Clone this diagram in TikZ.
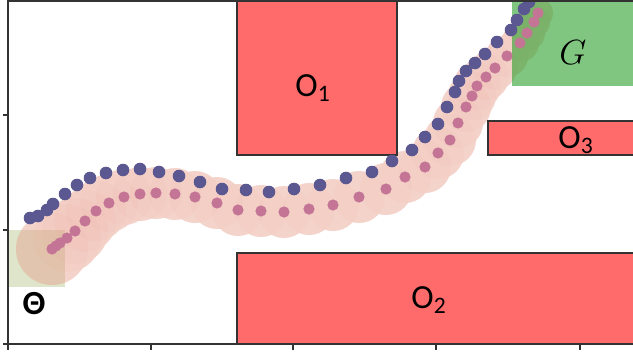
\documentclass[tikz,border=0pt]{standalone}
\usepackage{fontspec}
\setmainfont{Carlito}
\usetikzlibrary{positioning}
\definecolor{rojoObstaculo}{HTML}{FF6B6B}
\definecolor{verdeMeta}{HTML}{2CA02C}
\definecolor{verdeInicio}{HTML}{DEE5CA}
\definecolor{rosaBanda}{HTML}{E8A090}
\definecolor{moradoPunto}{HTML}{5B5790}
\definecolor{rosaPunto}{HTML}{C47494}
\definecolor{grisEje}{HTML}{333333}
\colorlet{colObstaculo}{rojoObstaculo}
\colorlet{colMeta}{verdeMeta}
\colorlet{colInicio}{verdeInicio}
\colorlet{colBanda}{rosaBanda}
\colorlet{colRef}{moradoPunto}
\colorlet{colPlan}{rosaPunto}
\newcommand{\px}{0.025cm}
\newcommand{\listaBanda}{52/249/36, 67/238/34, 75/231/33, 85/221/31, 96/211/30,
        109/203/29, 124/197/28, 140/194/27, 156/193/26, 175/194/26, 195/197/26,
        217/203/26, 238/210/26, 261/211/26, 284/212/26, 309/209/26, 333/205/26,
        359/197/26, 386/189/26, 405/177/26, 425/167/26, 438/153/26, 450/140/26,
        458/123/25, 466/107/25, 472/96/24, 477/86/24, 486/77/23, 495/68/22,
        507/56/21, 520/43/19, 527/33/18, 534/22/16, 538/13/15}
\tikzset{
  obstaculo/.style={draw=grisEje, line width=1pt, fill=colObstaculo},
  meta/.style={fill=colMeta, fill opacity=0.6},
  inicio/.style={fill=colInicio},
  banda/.style={fill=colBanda},
  bandaTextura/.style={fill=colBanda, fill opacity=0.07},
  puntoRef/.style={fill=colRef},
  puntoPlan/.style={fill=colPlan},
  eje/.style={draw=grisEje, line width=1pt},
  etiqueta/.style={font=\fontsize{24}{28}\selectfont, text=black, inner sep=0pt},
}

\begin{document}
\begin{tikzpicture}[x=\px, y=-\px]
    \useasboundingbox (0,0) rectangle (633,356);
    \fill[white] (0,0) rectangle (633,356);
    \fill[inicio] (8,230) rectangle (65,287);
    \begin{scope}[transparency group, opacity=0.42]
      \foreach \x/\y/\r in \listaBanda
        \fill[banda] (\x,\y) circle[radius={\r*\px}];
    \end{scope}
    \foreach \x/\y/\r in \listaBanda
      \fill[bandaTextura] (\x,\y) circle[radius={\r*\px}];
    \fill[meta] (512,0) rectangle (633,86);
    \draw[obstaculo] (237,0) rectangle (397,155);
    \draw[obstaculo] (237,253) rectangle (640,344);
    \draw[obstaculo] (488,121) rectangle (640,155);
    \foreach \x/\y in {52/249, 56/246, 60/243, 67/238, 75/231, 85/221, 96/211,
        109/203, 124/197, 140/194, 156/193, 175/194, 195/197, 217/203, 238/210,
        261/211, 284/212, 309/209, 333/205, 359/197, 386/189, 405/177, 425/167,
        438/153, 450/140, 458/123, 466/107, 472/96, 477/86, 486/77, 495/68,
        507/56, 520/43, 527/33, 534/22, 538/13}
      \fill[puntoPlan] (\x,\y) circle[radius={5.6*\px}];
    \foreach \x/\y in {30/218, 38/216, 47/210, 53/204, 65/194, 77/185, 90/178,
        106/173, 123/170, 140/169, 159/172, 179/176, 200/182, 222/189, 246/190,
        269/192, 294/189, 320/185, 346/178, 372/172, 392/161, 412/150, 425/137,
        438/124, 447/107, 455/92, 459/81, 466/71, 475/63, 485/54, 497/42,
        511/30, 517/20, 524/9, 529/2}
      \fill[puntoRef] (\x,\y) circle[radius={6.3*\px}];
    \draw[eje] (8,1) -- (633,1);
    \draw[eje] (8,0) -- (8,350);
    \draw[eje] (3,344) -- (633,344);
    \foreach \t in {115, 230}
      \draw[eje] (3,\t) -- (8,\t);
    \foreach \t in {151, 293, 436, 580}
      \draw[eje] (\t,344) -- (\t,350);
    \node[etiqueta] (o1) at (313,88) {O\textsubscript{1}};
    \node[etiqueta] (o2) at (429,300) {O\textsubscript{2}};
    \node[etiqueta] (o3) at (576,140) {O\textsubscript{3}};
    \node[etiqueta, font=\fontsize{26}{30}\selectfont] (meta) at (573,53) {$G$};
    \node[etiqueta, font=\fontsize{24}{28}\selectfont\bfseries] (inicio) at (34,304) {Θ};
\end{tikzpicture}
\end{document}
